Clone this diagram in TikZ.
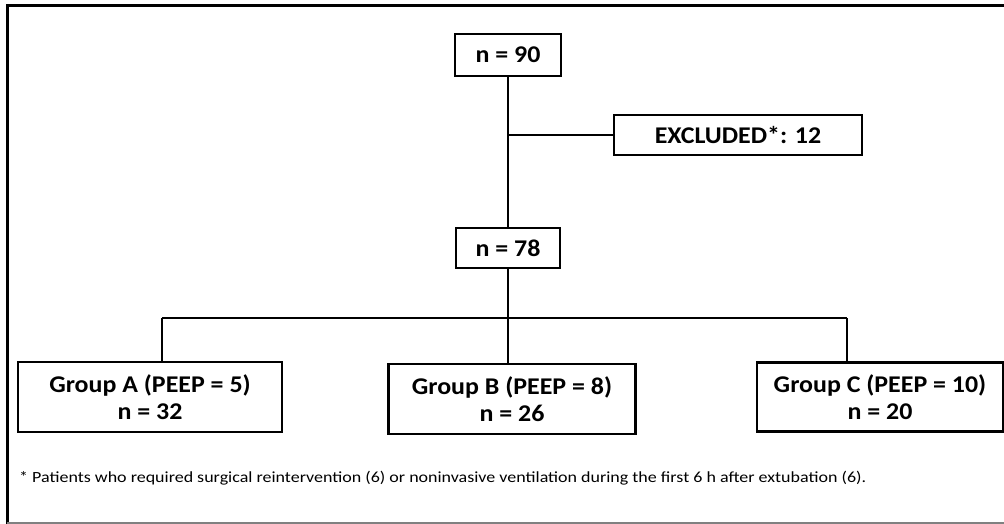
\documentclass[tikz,border=0pt]{standalone}
\usepackage{fontspec}
\setmainfont{Carlito}[FakeStretch=1.08]
\newfontfamily\notefont{Carlito}[FakeStretch=1.16]
\begin{document}
\begin{tikzpicture}[x=1pt,y=-1pt,
  box/.style={draw, line width=2.8pt, fill=white, font=\fontsize{24}{27}\selectfont\bfseries, align=center, inner sep=0pt},
  conn/.style={line width=1.2pt}]
\useasboundingbox (0,0) rectangle (1004,524);
\draw[line width=3pt] (7,524) -- (7,6) -- (1004,6);
\draw[gray, line width=1.5pt] (7,523) -- (1004,523);

\node[box, minimum width=106pt, minimum height=42pt] (n90) at (508,55) {n = 90};
\node[box, minimum width=248pt, minimum height=40pt] (excl) at (738,135) {EXCLUDED*: 12};
\node[box, minimum width=104pt, minimum height=40pt] (n78) at (508,248) {n = 78};
\node[box, minimum width=264pt, minimum height=70pt] (gA) at (150,397) {Group A (PEEP = 5)\\n = 32};
\node[box, minimum width=247pt, minimum height=70pt] (gB) at (512,399) {Group B (PEEP = 8)\\n = 26};
\node[box, minimum width=246pt, minimum height=69pt] (gC) at (880,397) {Group C (PEEP = 10)\\n = 20};

\draw[conn] (n90.south) -- (n78.north);
\draw[conn] (n90.south |- excl.west) -- (excl.west);
\coordinate (hl) at (162,318);
\coordinate (hr) at (847,318);
\draw[conn] (hl) -- (hr);
\draw[conn] (hl) -- (hl |- gA.north);
\draw[conn] (hr) -- (hr |- gC.north);
\draw[conn] (n78.south) -- (n78.south |- gB.north);

\node[anchor=west, inner sep=0pt, font=\notefont\fontsize{15.5}{18}\selectfont] (note) at (19,478) {* Patients who required surgical reintervention (6) or noninvasive ventilation during the first 6 h after extubation (6).};
\end{tikzpicture}
\end{document}
